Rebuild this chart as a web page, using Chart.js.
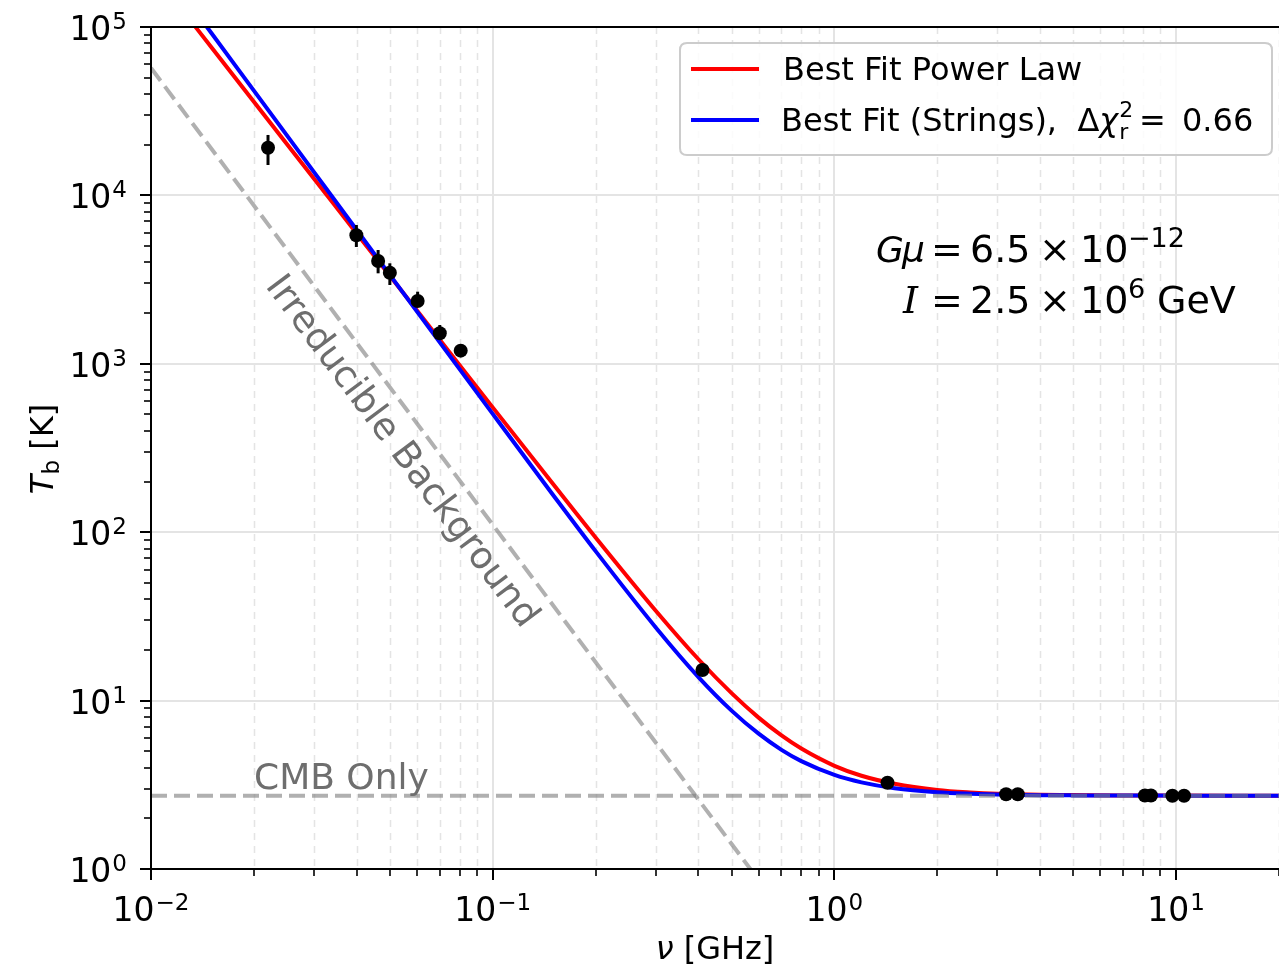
<!DOCTYPE html>
<html><head><meta charset="utf-8">
<script src="https://cdn.jsdelivr.net/npm/chart.js@4.4.0/dist/chart.umd.min.js"></script>
<style>html,body{margin:0;padding:0;background:#fff;}canvas{display:block;}</style>
</head><body>
<canvas id="c" width="1279" height="970"></canvas>
<script>
// ---------- data ----------
const obsFreq    = [0.0220, 0.0399, 0.0462, 0.0500, 0.0603, 0.0700, 0.0806, 0.411, 1.43, 3.18, 3.44, 8.10, 8.44, 9.75, 10.55];
const obsTemp    = [19200, 5800, 4080, 3475, 2360, 1517, 1197, 15.2, 3.25, 2.78, 2.78, 2.73, 2.73, 2.72, 2.72];
const obsErrHigh = [22850, 6670, 4740, 3952, 2680, 1700, 1230, 15.8, 3.32, 2.80, 2.80, 2.75, 2.75, 2.74, 2.74];
const obsErrLow  = [15150, 4940, 3446, 2938, 2234, 1417, 1165, 14.6, 3.18, 2.76, 2.76, 2.71, 2.71, 2.70, 2.70];

const curveFreq = [0.013,0.015,0.02,0.03,0.04,0.05,0.07,0.1,0.15,0.2,0.3,0.4,0.5,0.6,0.7,0.8,1.0,1.2,1.5,2,2.5,3,4,5,7,10,15,20];
const powerLawTemp = [110400,76000,35970,12560,5940,3330,1390,551,194,93.1,34.2,17.6,11.07,7.92,6.21,5.19,4.10,3.58,3.21,2.95,2.85,2.80,2.76,2.75,2.734,2.728,2.726,2.726];
const stringsTemp  = [137000,92400,41900,13740,6230,3375,1340,504,167,77.2,27.2,13.8,8.72,6.36,5.10,4.37,3.62,3.27,3.02,2.86,2.80,2.77,2.745,2.736,2.729,2.727,2.725,2.725];

const bgFreq  = [0.01, 0.6];
const bgTemp  = [57100, 0.86];
const cmbFreq = [0.01, 20];
const cmbTemp = [2.725, 2.725];

const xTickValues = [0.01, 0.1, 1, 10];
const xTickLabels = ['10^\u22122', '10^\u22121', '10^0', '10^1'];
const yTickValues = [1, 10, 100, 1000, 10000, 100000];
const yTickLabels = ['10^0', '10^1', '10^2', '10^3', '10^4', '10^5'];

const seriesLabels = ['Best Fit Power Law', 'Best Fit (Strings)'];
const chi2Value = '0.66';

// ---------- helpers ----------
const FONT = '"DejaVu Sans", sans-serif';
const zip = (xs, ys) => xs.map((x, i) => ({x: x, y: ys[i]}));
function allLogTicks(min, max) {
  const t = [];
  for (let k = Math.floor(Math.log10(min)); k <= Math.ceil(Math.log10(max)); k++) {
    for (let m = 1; m <= 9; m++) {
      const v = m * Math.pow(10, k);
      if (v >= min * 0.9999 && v <= max * 1.0001) t.push({value: v, major: m === 1});
    }
  }
  return t;
}

const POINTS_INDEX = 4;
const BASE_FONT = '33px ' + FONT, EXP_FONT = '23px ' + FONT;

function powerLabelWidth(ctx, lab) {
  const [b, e] = lab.split('^');
  ctx.font = BASE_FONT; const wb = ctx.measureText(b).width;
  ctx.font = EXP_FONT; const we = ctx.measureText(e).width;
  return [wb, we];
}
function drawPowerLabel(ctx, lab, x0, base) {
  const [b, e] = lab.split('^');
  ctx.font = BASE_FONT; ctx.fillText(b, x0, base);
  const wb = ctx.measureText(b).width;
  ctx.font = EXP_FONT; ctx.fillText(e, x0 + wb + 1, base - 11);
}

const decor = {
  id: 'decor',
  beforeDatasetsDraw(chart) {
    const {ctx, chartArea: ca, scales: {x, y}} = chart;
    ctx.save();
    ctx.strokeStyle = '#e4e4e4';
    ctx.lineWidth = 1.5;
    ctx.setLineDash([7, 6]);
    allLogTicks(x.min, x.max).filter(t => !t.major).forEach(t => {
      const px = Math.round(x.getPixelForValue(t.value)) + 0.5;
      ctx.beginPath(); ctx.moveTo(px, ca.top); ctx.lineTo(px, ca.bottom); ctx.stroke();
    });
    ctx.setLineDash([]);
    ctx.lineWidth = 2;
    allLogTicks(x.min, x.max).filter(t => t.major).forEach(t => {
      const px = Math.round(x.getPixelForValue(t.value));
      ctx.beginPath(); ctx.moveTo(px, ca.top); ctx.lineTo(px, ca.bottom); ctx.stroke();
    });
    allLogTicks(y.min, y.max).filter(t => t.major).forEach(t => {
      const py = Math.round(y.getPixelForValue(t.value));
      ctx.beginPath(); ctx.moveTo(ca.left, py); ctx.lineTo(ca.right, py); ctx.stroke();
    });
    ctx.restore();
  },
  beforeDatasetDraw(chart, args) {
    if (args.index !== POINTS_INDEX) return;
    const {ctx, scales: {x, y}} = chart;
    ctx.save();
    ctx.strokeStyle = '#000';
    ctx.lineWidth = 3;
    obsFreq.forEach((f, i) => {
      const px = x.getPixelForValue(f);
      ctx.beginPath();
      ctx.moveTo(px, y.getPixelForValue(obsErrHigh[i]));
      ctx.lineTo(px, y.getPixelForValue(obsErrLow[i]));
      ctx.stroke();
    });
    ctx.restore();
  },
  afterDatasetsDraw(chart) {
    const {ctx} = chart;
    ctx.save();
    ctx.fillStyle = '#6e6e6e';
    ctx.font = '36px ' + FONT;
    ctx.textBaseline = 'alphabetic';
    ctx.textAlign = 'left';
    ctx.fillText('CMB Only', 254, 789);
    ctx.translate(401, 452);
    ctx.rotate(Math.atan2(1.335, 1));
    ctx.textAlign = 'center';
    ctx.textBaseline = 'middle';
    ctx.font = '37px ' + FONT;
    ctx.fillText('Irreducible Background', 0, 0);
    ctx.restore();
  },
  afterDraw(chart) {
    const {ctx, chartArea: ca, scales: {x, y}} = chart;
    ctx.save();
    ctx.strokeStyle = '#000';
    ctx.lineWidth = 2;
    ctx.beginPath();
    ctx.moveTo(ca.left, ca.top); ctx.lineTo(ca.right + 2, ca.top);
    ctx.moveTo(ca.left, ca.top - 1); ctx.lineTo(ca.left, ca.bottom + 1);
    ctx.moveTo(ca.left, ca.bottom); ctx.lineTo(ca.right + 2, ca.bottom);
    ctx.stroke();
    allLogTicks(x.min, x.max).forEach(t => {
      const px = Math.round(x.getPixelForValue(t.value));
      ctx.lineWidth = t.major ? 2 : 1.6;
      ctx.beginPath(); ctx.moveTo(px, ca.bottom); ctx.lineTo(px, ca.bottom + (t.major ? 11 : 7)); ctx.stroke();
    });
    allLogTicks(y.min, y.max).forEach(t => {
      const py = Math.round(y.getPixelForValue(t.value));
      ctx.lineWidth = t.major ? 2 : 1.6;
      ctx.beginPath(); ctx.moveTo(ca.left, py); ctx.lineTo(ca.left - (t.major ? 11 : 7), py); ctx.stroke();
    });

    ctx.fillStyle = '#000';
    ctx.textBaseline = 'alphabetic';
    ctx.textAlign = 'left';
    xTickValues.forEach((v, i) => {
      const px = x.getPixelForValue(v);
      const [wb, we] = powerLabelWidth(ctx, xTickLabels[i]);
      drawPowerLabel(ctx, xTickLabels[i], px - (wb + we + 1) / 2, ca.bottom + 52);
    });
    yTickValues.forEach((v, i) => {
      const py = y.getPixelForValue(v);
      const [wb, we] = powerLabelWidth(ctx, yTickLabels[i]);
      drawPowerLabel(ctx, yTickLabels[i], 127 - (wb + we + 1), py + 13);
    });

    // x title
    ctx.font = 'italic 32px ' + FONT;
    const wNu = ctx.measureText('\u03BD').width;
    ctx.font = '32px ' + FONT;
    const wRest = ctx.measureText(' [GHz]').width;
    let sx = 715 - (wNu + wRest) / 2;
    ctx.font = 'italic 32px ' + FONT; ctx.fillText('\u03BD', sx, 959);
    ctx.font = '32px ' + FONT; ctx.fillText(' [GHz]', sx + wNu, 959);
    // y title
    ctx.save();
    ctx.translate(53, 449);
    ctx.rotate(-Math.PI / 2);
    ctx.font = 'italic 32px ' + FONT; const wT = ctx.measureText('T').width;
    ctx.font = '23px ' + FONT; const wb = ctx.measureText('b').width;
    ctx.font = '32px ' + FONT; const wK = ctx.measureText(' [K]').width;
    let ty = -(wT + wb + wK) / 2;
    ctx.font = 'italic 32px ' + FONT; ctx.fillText('T', ty, 0); ty += wT;
    ctx.font = '23px ' + FONT; ctx.fillText('b', ty, 6); ty += wb;
    ctx.font = '32px ' + FONT; ctx.fillText(' [K]', ty, 0);
    ctx.restore();

    // annotation
    const piece = (txt, px, py, font) => { ctx.font = font; ctx.fillText(txt, px, py); return ctx.measureText(txt).width; };
    const A = '38px ' + FONT, AI = 'italic 36px ' + FONT, AS = '27px ' + FONT;
    const wG = piece('G', 876, 262, AI);
    piece('\u03BC', 876 + wG - 2, 262, AI);
    piece('=', 931, 262, A);
    piece('6.5', 970, 262, A);
    piece('\u00D7', 1039, 262, A);
    piece('10', 1080, 262, A);
    piece('\u221212', 1128, 247, AS);
    piece('I', 903, 313, 'italic 38px "DejaVu Serif", serif');
    piece('=', 931, 313, A);
    piece('2.5', 970, 313, A);
    piece('\u00D7', 1039, 313, A);
    piece('10', 1080, 313, A);
    piece('6', 1128, 298, AS);
    piece('GeV', 1157, 313, A);

    // legend
    const lx = 680, ly = 43, lw = 592, lh = 112, r = 7;
    ctx.beginPath();
    ctx.moveTo(lx + r, ly); ctx.lineTo(lx + lw - r, ly); ctx.quadraticCurveTo(lx + lw, ly, lx + lw, ly + r);
    ctx.lineTo(lx + lw, ly + lh - r); ctx.quadraticCurveTo(lx + lw, ly + lh, lx + lw - r, ly + lh);
    ctx.lineTo(lx + r, ly + lh); ctx.quadraticCurveTo(lx, ly + lh, lx, ly + lh - r);
    ctx.lineTo(lx, ly + r); ctx.quadraticCurveTo(lx, ly, lx + r, ly);
    ctx.closePath();
    ctx.fillStyle = 'rgba(255,255,255,0.85)';
    ctx.fill();
    ctx.strokeStyle = '#cccccc'; ctx.lineWidth = 2; ctx.stroke();
    const ds = chart.data.datasets;
    [[0, 69], [1, 120]].forEach(([di, yy]) => {
      ctx.strokeStyle = ds[di].borderColor; ctx.lineWidth = 4;
      ctx.beginPath(); ctx.moveTo(691, yy); ctx.lineTo(759, yy); ctx.stroke();
    });
    ctx.fillStyle = '#000';
    ctx.font = '32px ' + FONT;
    ctx.fillText(ds[0].label, 783, 80);
    const t2 = ds[1].label + ',  \u0394';
    ctx.fillText(t2, 781, 131);
    let cx = 781 + ctx.measureText(t2).width;
    ctx.font = 'italic 32px ' + FONT; ctx.fillText('\u03C7', cx, 131); cx += ctx.measureText('\u03C7').width + 1;
    ctx.font = '22px ' + FONT; ctx.fillText('2', cx, 117); ctx.fillText('r', cx, 139);
    ctx.font = '32px ' + FONT;
    ctx.fillText('=', 1139, 131);
    ctx.fillText(chi2Value, 1182, 131);
    ctx.restore();
  }
};

const ctx = document.getElementById('c').getContext('2d');
new Chart(ctx, {
  type: 'scatter',
  data: {
    datasets: [
      {label: seriesLabels[0], data: zip(curveFreq, powerLawTemp), showLine: true, borderColor: '#ff0000', borderWidth: 4,
       pointRadius: 0, cubicInterpolationMode: 'monotone', order: 3},
      {label: seriesLabels[1], data: zip(curveFreq, stringsTemp), showLine: true, borderColor: '#0000ff', borderWidth: 4,
       pointRadius: 0, cubicInterpolationMode: 'monotone', order: 2},
      {label: 'Irreducible Background', data: zip(bgFreq, bgTemp), showLine: true, borderColor: 'rgba(128,128,128,0.62)',
       borderWidth: 4, borderDash: [16, 7], pointRadius: 0, order: 4},
      {label: 'CMB Only', data: zip(cmbFreq, cmbTemp), showLine: true, borderColor: 'rgba(128,128,128,0.62)',
       borderWidth: 4, borderDash: [16, 7], pointRadius: 0, order: 1},
      {label: 'Data', data: zip(obsFreq, obsTemp), showLine: false, backgroundColor: '#000', borderColor: '#000',
       pointRadius: 7, borderWidth: 0, order: 0}
    ]
  },
  options: {
    responsive: false,
    animation: false,
    devicePixelRatio: 1,
    layout: {autoPadding: false, padding: {top: 27, right: 0, left: 0, bottom: 0}},
    plugins: {legend: {display: false}, tooltip: {enabled: false}},
    scales: {
      x: {
        type: 'logarithmic', min: 0.01, max: 20, position: 'bottom',
        afterBuildTicks: s => { s.ticks = allLogTicks(s.min, s.max); },
        afterFit: s => { s.height = 101; s.paddingLeft = 0; s.paddingRight = 0; },
        grid: {display: false},
        border: {display: false},
        ticks: {display: false}
      },
      y: {
        type: 'logarithmic', min: 1, max: 100000, position: 'left',
        afterBuildTicks: s => { s.ticks = allLogTicks(s.min, s.max); },
        afterFit: s => { s.width = 151; s.paddingTop = 0; s.paddingBottom = 0; },
        grid: {display: false},
        border: {display: false},
        ticks: {display: false}
      }
    }
  },
  plugins: [decor]
});
</script>
</body></html>
